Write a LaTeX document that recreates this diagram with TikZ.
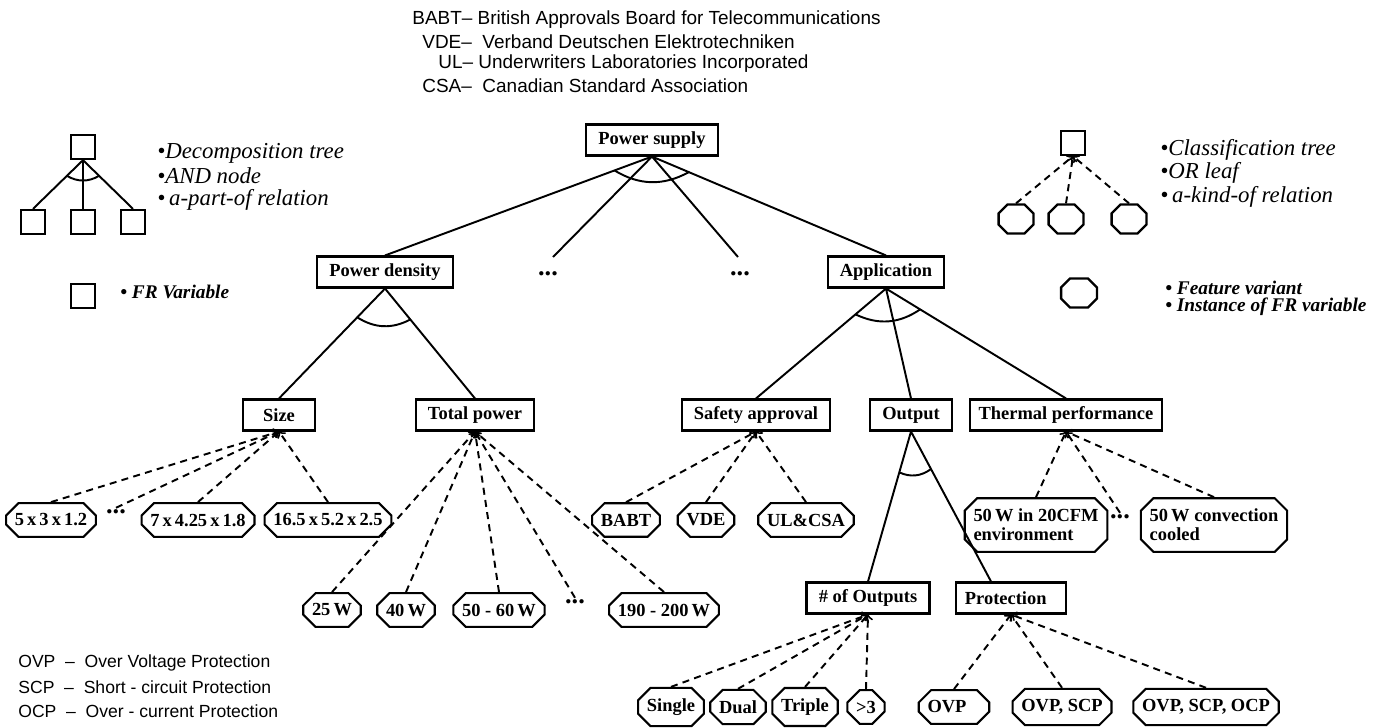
\documentclass[tikz,border=0pt]{standalone}
\usepackage{fontspec}
\setmainfont{Liberation Serif}
\newfontfamily\helvfont{Liberation Sans}
\usetikzlibrary{arrows, calc, shapes.misc, positioning}

\begin{document}
\begin{tikzpicture}[
        x=0.02cm, y=-0.02cm,
        frBox/.style={draw, line width=1.2pt, minimum height=0.62cm, inner xsep=7pt,
            font=\fontsize{10.5}{12}\selectfont\bfseries},
        leaf/.style={draw, line width=1.2pt, chamfered rectangle, chamfered rectangle xsep=4pt,
            inner xsep=1pt, inner ysep=3pt, minimum height=0.58cm, align=left,
            font=\fontsize{10.5}{11}\selectfont\bfseries},
        dots/.style={inner sep=1pt, font=\fontsize{15}{15}\selectfont\bfseries},
        partOf/.style={line width=1.1pt},
        kindOf/.style={line width=1.1pt, dash pattern=on 4pt off 3pt, ->},
        legendBox/.style={draw, line width=1.3pt, minimum size=0.48cm, inner sep=0pt},
        legendLeaf/.style={draw, line width=1.3pt, chamfered rectangle, chamfered rectangle xsep=2pt,
            inner xsep=1.5pt, inner ysep=1.5pt},
        legendText/.style={anchor=west, inner sep=0pt, font=\fontsize{13}{15}\selectfont\itshape},
        legendBold/.style={anchor=west, inner sep=0pt, font=\fontsize{11}{13}\selectfont\bfseries\itshape},
        abbrev/.style={anchor=west, inner sep=0pt, font=\helvfont\fontsize{10.8}{12}\selectfont}
    ]
    \useasboundingbox (0, 0) rectangle (1395, 727);

    % abbreviations
    \node(abbrBABT) at (412, 20)[abbrev] {BABT– British Approvals Board for Telecommunications};
    \node(abbrVDE) at (422, 42)[abbrev] {VDE– \ Verband Deutschen Elektrotechniken};
    \node(abbrUL) at (438, 64)[abbrev] {UL– Underwriters Laboratories Incorporated};
    \node(abbrCSA) at (422, 86)[abbrev] {CSA– \ Canadian Standard Association};
    \node(abbrOVP) at (18, 663)[abbrev, font=\helvfont\fontsize{10}{12}\selectfont] {OVP \ – \ Over Voltage Protection};
    \node(abbrSCP) at (18, 687)[abbrev, font=\helvfont\fontsize{10}{12}\selectfont] {SCP \ – \ Short - circuit Protection};
    \node(abbrOCP) at (18, 711)[abbrev, font=\helvfont\fontsize{10}{12}\selectfont] {OCP \ – \ Over - current Protection};

    % legend: decomposition tree
    \node(legTop) at (83, 147)[legendBox] {};
    \node(legLeft) at (33, 222)[legendBox] {};
    \node(legMid) at (83, 222)[legendBox] {};
    \node(legRight) at (133, 222)[legendBox] {};
    \coordinate (legJoin) at (legTop.south);
    \draw[partOf] (legJoin) -- (legLeft.north) (legJoin) -- (legMid.north) (legJoin) -- (legRight.north);
    \draw[partOf] ($(legJoin)!0.45cm!(legLeft.north)$) to[bend right=30] ($(legJoin)!0.45cm!(legRight.north)$);
    \node(legDecomp) at (157, 153)[legendText] {\textbullet Decomposition tree};
    \node(legAnd) at (157, 176)[legendText] {\textbullet AND node};
    \node(legPart) at (157, 200)[legendText] {\textbullet\,a-part-of relation};
    \node(legFR) at (83, 296)[legendBox] {};
    \node(legFRText) at (120, 292)[legendBold] {\textbullet\ FR Variable};

    % legend: classification tree
    \node(legClass) at (1073, 143)[legendBox] {};
    \node(legOrA) at (1016, 219)[legendLeaf] {\rule{0.45cm}{0pt}\rule{0pt}{0.26cm}};
    \node(legOrB) at (1066, 219)[legendLeaf] {\rule{0.45cm}{0pt}\rule{0pt}{0.26cm}};
    \node(legOrC) at (1129, 219)[legendLeaf] {\rule{0.45cm}{0pt}\rule{0pt}{0.26cm}};
    \foreach \leg in {legOrA, legOrB, legOrC}
        \draw[kindOf] (\leg.north) -- (legClass.south);
    \node(legClassText) at (1160, 150)[legendText] {\textbullet Classification tree};
    \node(legOrText) at (1160, 173)[legendText] {\textbullet OR leaf};
    \node(legKindText) at (1160, 197)[legendText] {\textbullet\,a-kind-of relation};
    \node(legVariant) at (1079, 293)[legendLeaf] {\rule{0.47cm}{0pt}\rule{0pt}{0.26cm}};
    \node(legVariantA) at (1165, 288)[legendBold] {\textbullet\ Feature variant};
    \node(legVariantB) at (1165, 307)[legendBold] {\textbullet\ Instance of FR variable};

    % functional requirement tree
    \node(powerSupply) at (652, 140)[frBox] {Power supply};
    \node(powerDensity) at (385, 272)[frBox] {Power density};
    \node(dotsA) at (548, 274)[dots] {...};
    \node(dotsB) at (740, 274)[dots] {...};
    \node(application) at (886, 272)[frBox] {Application};
    \node(size) at (279, 415)[frBox, minimum width=1.45cm] {Size};
    \node(totalPower) at (475, 415)[frBox] {Total power};
    \node(safety) at (756, 415)[frBox] {Safety approval};
    \node(output) at (911, 415)[frBox] {Output};
    \node(thermal) at (1066, 415)[frBox, inner xsep=5pt] {Thermal performance};
    \node(numOutputs) at (868, 598)[frBox] {\# of Outputs};
    \node(protection) at (1011, 598)[frBox, inner xsep=5pt] {Protection\rule{6pt}{0pt}};

    \coordinate (psJoin) at (powerSupply.south);
    \coordinate (dotsAEnd) at (553, 257);
    \coordinate (dotsBEnd) at (738, 257);
    \draw[partOf] (psJoin) -- (powerDensity.north) (psJoin) -- (dotsAEnd)
        (psJoin) -- (dotsBEnd) (psJoin) -- (application.north);
    \draw[partOf] ($(psJoin)!0.8cm!(powerDensity.north)$) to[bend right=30] ($(psJoin)!0.8cm!(application.north)$);

    \coordinate (pdJoin) at (powerDensity.south);
    \draw[partOf] (pdJoin) -- (size.north) (pdJoin) -- (totalPower.north);
    \draw[partOf] ($(pdJoin)!0.8cm!(size.north)$) to[bend right=30] ($(pdJoin)!0.8cm!(totalPower.north)$);

    \coordinate (appJoin) at (application.south);
    \draw[partOf] (appJoin) -- (safety.north) (appJoin) -- (output.north) (appJoin) -- (thermal.north);
    \draw[partOf] ($(appJoin)!0.8cm!(safety.north)$) to[bend right=30] ($(appJoin)!0.8cm!(thermal.north)$);

    \coordinate (outJoin) at (output.south);
    \coordinate (protTop) at ($(protection.north)+(-20, 0)$);
    \draw[partOf] (outJoin) -- (numOutputs.north) (outJoin) -- (protTop);
    \draw[partOf] ($(outJoin)!0.85cm!(numOutputs.north)$) to[bend right=30] ($(outJoin)!0.85cm!(protTop)$);

    % feature variants
    \node(sizeA) at (51, 520)[leaf] {5\,x\,3\,x\,1.2};
    \node(sizeDots) at (116, 512)[dots] {...};
    \node(sizeB) at (198, 520)[leaf] {7\,x\,4.25\,x\,1.8};
    \node(sizeC) at (328, 520)[leaf] {16.5\,x\,5.2\,x\,2.5};
    \foreach \leaf in {sizeA, sizeDots, sizeB, sizeC}
        \draw[kindOf] (\leaf.north) -- (size.south);

    \node(powerA) at (332, 610)[leaf] {25\,W};
    \node(powerB) at (406, 610)[leaf] {40\,W};
    \node(powerC) at (499, 610)[leaf] {50 - 60\,W};
    \node(powerDots) at (575, 602)[dots] {...};
    \node(powerD) at (664, 610)[leaf] {190 - 200\,W};
    \foreach \leaf in {powerA, powerB, powerC, powerDots, powerD}
        \draw[kindOf] (\leaf.north) -- (totalPower.south);

    \node(approvalA) at (626, 520)[leaf] {BABT};
    \node(approvalB) at (706, 520)[leaf] {VDE};
    \node(approvalC) at (806, 520)[leaf] {UL\&CSA};
    \foreach \leaf in {approvalA, approvalB, approvalC}
        \draw[kindOf] (\leaf.north) -- (safety.south);

    \node(thermalA) at (1036, 525)[leaf] {50\,W in 20CFM\\environment};
    \node(thermalDots) at (1120, 517)[dots] {...};
    \node(thermalB) at (1214, 525)[leaf] {50\,W convection\\cooled};
    \foreach \leaf in {thermalA, thermalDots, thermalB}
        \draw[kindOf] (\leaf.north) -- (thermal.south);

    \node(outputsA) at (671, 707)[leaf] {Single};
    \node(outputsB) at (738, 707)[leaf] {Dual};
    \node(outputsC) at (805, 707)[leaf] {Triple};
    \node(outputsD) at (866, 707)[leaf] {>3};
    \foreach \leaf in {outputsA, outputsB, outputsC, outputsD}
        \draw[kindOf] (\leaf.north) -- (numOutputs.south);

    \node(protectA) at (954, 707)[leaf] {OVP\rule{8pt}{0pt}};
    \node(protectB) at (1062, 707)[leaf] {OVP, SCP};
    \node(protectC) at (1206, 707)[leaf] {OVP, SCP, OCP};
    \foreach \leaf in {protectA, protectB, protectC}
        \draw[kindOf] (\leaf.north) -- (protection.south);
\end{tikzpicture}
\end{document}
